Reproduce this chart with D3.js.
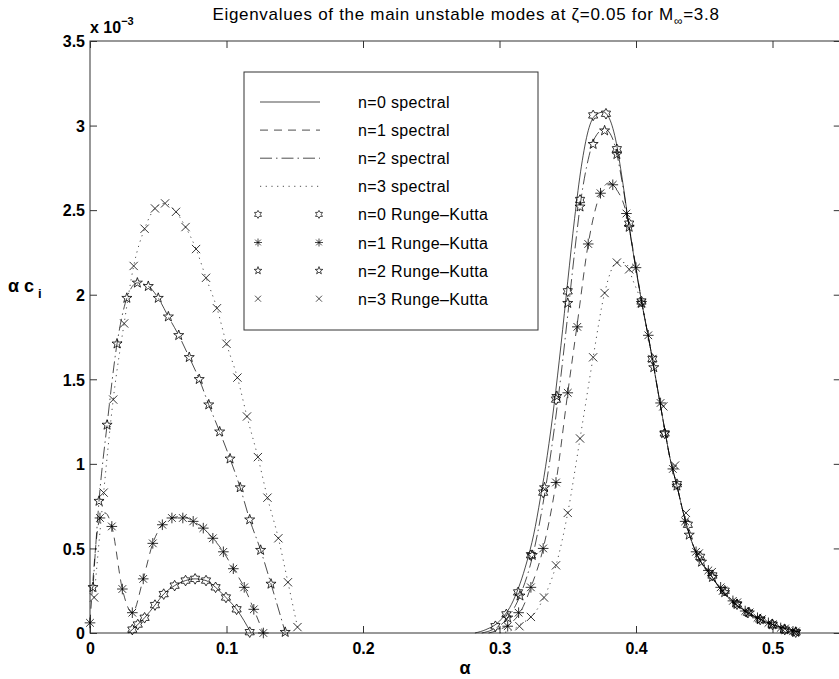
<!DOCTYPE html>
<html><head><meta charset="utf-8">
<script src="https://cdn.jsdelivr.net/npm/d3@7"></script>
<style>
body{margin:0;background:#fff}
text{font-family:"Liberation Sans",Arial,Helvetica,sans-serif;fill:#000}
</style>
</head><body>
<svg id="chart" width="839" height="679"></svg>
<script>
// ---------- data (alpha, alpha*c_i in units of 1e-3) ----------
const xTicks = [0, 0.1, 0.2, 0.3, 0.4, 0.5];
const xTickLabels = ["0", "0.1", "0.2", "0.3", "0.4", "0.5"];
const yTicks = [0, 0.5, 1, 1.5, 2, 2.5, 3, 3.5];
const yTickLabels = ["0", "0.5", "1", "1.5", "2", "2.5", "3", "3.5"];
const legendLabels = ["n=0 spectral", "n=1 spectral", "n=2 spectral", "n=3 spectral",
  "n=0 Runge\u2013Kutta", "n=1 Runge\u2013Kutta", "n=2 Runge\u2013Kutta", "n=3 Runge\u2013Kutta"];

// low-alpha family, spectral curves
const spec0Low = [[0.028,0],[0.031,0.02],[0.035,0.05],[0.040,0.09],[0.0476,0.165],[0.054,0.23],[0.062,0.28],[0.070,0.31],[0.077,0.32],[0.085,0.31],[0.092,0.27],[0.0996,0.21],[0.1074,0.14],[0.118,0]];
const spec1Low = [[0,0.06],[0.0073,0.68],[0.011,0.71],[0.016,0.63],[0.0237,0.26],[0.031,0.12],[0.039,0.32],[0.046,0.53],[0.053,0.64],[0.060,0.68],[0.068,0.69],[0.0756,0.66],[0.083,0.62],[0.090,0.56],[0.0977,0.48],[0.105,0.38],[0.113,0.27],[0.120,0.14],[0.127,0]];
const spec2Low = [[0.0022,0.27],[0.0066,0.78],[0.0125,1.23],[0.0198,1.71],[0.027,1.98],[0.0347,2.07],[0.0427,2.05],[0.050,1.98],[0.0574,1.87],[0.065,1.76],[0.0727,1.63],[0.080,1.50],[0.087,1.35],[0.095,1.19],[0.1026,1.03],[0.110,0.86],[0.117,0.67],[0.125,0.49],[0.1326,0.29],[0.143,0.005]];
const spec3Low = [[0.003,0.21],[0.010,0.83],[0.017,1.38],[0.025,1.83],[0.032,2.17],[0.040,2.39],[0.0476,2.51],[0.055,2.54],[0.063,2.49],[0.070,2.40],[0.0777,2.27],[0.085,2.10],[0.093,1.92],[0.100,1.71],[0.108,1.51],[0.115,1.28],[0.123,1.04],[0.130,0.80],[0.138,0.56],[0.145,0.30],[0.152,0.035]];

// high-alpha family, spectral curves (rising part) and shared decaying tail
const tailHigh = [[0.405,1.92],[0.41,1.71],[0.415,1.48],[0.42,1.25],[0.425,1.03],[0.43,0.87],[0.435,0.70],[0.44,0.56],[0.445,0.46],[0.45,0.39],[0.455,0.34],[0.46,0.28],[0.465,0.23],[0.47,0.19],[0.48,0.13],[0.49,0.085],[0.50,0.05],[0.51,0.025],[0.52,0.005]];
const spec0High = [[0.282,0],[0.29,0.02],[0.30,0.07],[0.31,0.19],[0.32,0.42],[0.325,0.58],[0.33,0.80],[0.335,1.05],[0.34,1.35],[0.345,1.70],[0.35,2.08],[0.355,2.45],[0.36,2.76],[0.365,2.97],[0.37,3.06],[0.376,3.08],[0.38,3.05],[0.385,2.92],[0.39,2.68],[0.395,2.40],[0.40,2.15]];
const spec1High = [[0.292,0],[0.30,0.02],[0.31,0.07],[0.315,0.12],[0.323,0.27],[0.332,0.50],[0.3414,0.89],[0.350,1.42],[0.357,1.83],[0.365,2.30],[0.374,2.60],[0.38,2.66],[0.385,2.63],[0.393,2.48],[0.40,2.16]];
const spec2High = [[0.287,0],[0.295,0.02],[0.305,0.08],[0.315,0.22],[0.325,0.48],[0.335,0.92],[0.345,1.52],[0.35,1.88],[0.355,2.25],[0.36,2.58],[0.365,2.80],[0.37,2.93],[0.377,2.98],[0.383,2.92],[0.39,2.66],[0.395,2.40],[0.40,2.15]];
const spec3High = [[0.30,0],[0.31,0.02],[0.315,0.05],[0.323,0.095],[0.3326,0.21],[0.3414,0.40],[0.350,0.71],[0.359,1.15],[0.3686,1.63],[0.377,2.01],[0.386,2.19],[0.392,2.19],[0.398,2.08]];

// Runge-Kutta points
const rk0 = [[0.031,0.02],[0.035,0.05],[0.040,0.09],[0.0476,0.165],[0.054,0.23],[0.062,0.28],[0.070,0.31],[0.077,0.32],[0.085,0.31],[0.092,0.27],[0.0996,0.21],[0.1074,0.14],[0.117,0.005],
  [0.297,0.04],[0.305,0.11],[0.3136,0.24],[0.323,0.46],[0.332,0.83],[0.3414,1.38],[0.350,2.02],[0.359,2.56],[0.3686,3.06],[0.378,3.07],[0.386,2.86],[0.395,2.42],[0.404,1.96],[0.412,1.62],[0.421,1.18],[0.43,0.88],[0.438,0.64],[0.447,0.45],[0.456,0.34],[0.465,0.25],[0.474,0.17],[0.482,0.12],[0.491,0.08],[0.50,0.05],[0.509,0.02],[0.517,0.005]];
const rk1 = [[0,0.06],[0.0073,0.68],[0.016,0.63],[0.0237,0.26],[0.031,0.12],[0.039,0.32],[0.046,0.53],[0.053,0.64],[0.060,0.68],[0.068,0.68],[0.0756,0.66],[0.083,0.62],[0.090,0.56],[0.0977,0.48],[0.105,0.38],[0.113,0.27],[0.120,0.14],[0.127,0],
  [0.306,0.04],[0.314,0.12],[0.323,0.27],[0.332,0.50],[0.3414,0.89],[0.350,1.42],[0.357,1.81],[0.365,2.30],[0.374,2.60],[0.383,2.65],[0.393,2.48],[0.40,2.16],[0.409,1.76],[0.418,1.36],[0.427,0.97],[0.436,0.66],[0.444,0.48],[0.453,0.37],[0.462,0.27],[0.471,0.19],[0.48,0.13],[0.489,0.09],[0.497,0.06],[0.506,0.03],[0.515,0.01]];
const rk2 = [[0.0022,0.27],[0.0066,0.78],[0.0125,1.23],[0.0198,1.71],[0.027,1.98],[0.0347,2.07],[0.0427,2.05],[0.050,1.98],[0.0574,1.87],[0.065,1.76],[0.0727,1.63],[0.080,1.50],[0.087,1.35],[0.095,1.19],[0.1026,1.03],[0.110,0.86],[0.117,0.67],[0.125,0.49],[0.1326,0.29],[0.143,0.005],
  [0.306,0.09],[0.315,0.22],[0.324,0.46],[0.333,0.86],[0.342,1.40],[0.350,1.95],[0.359,2.52],[0.3686,2.89],[0.377,2.97],[0.386,2.83],[0.395,2.40],[0.404,1.95],[0.413,1.57],[0.421,1.18],[0.43,0.87],[0.439,0.58],[0.448,0.42],[0.456,0.33],[0.465,0.24],[0.474,0.17],[0.483,0.12],[0.491,0.08],[0.50,0.05],[0.509,0.02],[0.517,0.005]];
const rk3 = [[0.003,0.21],[0.010,0.83],[0.017,1.38],[0.025,1.83],[0.032,2.17],[0.040,2.39],[0.0476,2.51],[0.055,2.54],[0.063,2.49],[0.070,2.40],[0.0777,2.27],[0.085,2.10],[0.093,1.92],[0.100,1.71],[0.108,1.51],[0.115,1.28],[0.123,1.04],[0.130,0.80],[0.138,0.56],[0.145,0.30],[0.152,0.035],
  [0.3146,0.04],[0.323,0.095],[0.3326,0.21],[0.3414,0.40],[0.350,0.71],[0.359,1.15],[0.3686,1.63],[0.377,2.01],[0.386,2.19],[0.395,2.15],[0.404,1.95],[0.412,1.62],[0.42,1.34],[0.4286,0.99],[0.4366,0.71],[0.446,0.47],[0.4555,0.36],[0.4637,0.25],[0.474,0.18],[0.483,0.12],[0.492,0.08],[0.50,0.05],[0.509,0.025],[0.517,0.008]];

// ---------- drawing ----------
const svg = d3.select("#chart");
const L = 90, T = 41, B = 633;
const x = d3.scaleLinear().domain([0, 0.55]).range([L, L + 0.55 * 1365]);
const y = d3.scaleLinear().domain([0, 3.5]).range([B, T]);
const R = x.range()[1];

const dashes = [null, "8,6", "12,4,1.5,4", "1.2,4.5"];
const lineGen = d3.line().x(d => x(d[0])).y(d => y(d[1])).curve(d3.curveMonotoneX);

const specSets = [
  [spec0Low, spec0High.concat(tailHigh)],
  [spec1Low, spec1High.concat(tailHigh)],
  [spec2Low, spec2High.concat(tailHigh)],
  [spec3Low, spec3High.concat(tailHigh)]
];

// axes box
svg.append("rect").attr("x", L).attr("y", T).attr("width", R - L).attr("height", B - T)
  .attr("fill", "none").attr("stroke", "#333").attr("stroke-width", 1);

// ticks inward with d3 axes
const tickLen = 7;
const axB = svg.append("g").attr("transform", `translate(0,${B})`)
  .call(d3.axisBottom(x).tickValues(xTicks).tickSize(-tickLen).tickFormat((d, i) => xTickLabels[i]).tickPadding(12));
const axT = svg.append("g").attr("transform", `translate(0,${T})`)
  .call(d3.axisTop(x).tickValues(xTicks).tickSize(-tickLen).tickFormat(""));
const axL = svg.append("g").attr("transform", `translate(${L},0)`)
  .call(d3.axisLeft(y).tickValues(yTicks).tickSize(-tickLen).tickFormat((d, i) => yTickLabels[i]).tickPadding(5));
const axR = svg.append("g").attr("transform", `translate(${R},0)`)
  .call(d3.axisRight(y).tickValues(yTicks).tickSize(-tickLen).tickFormat(""));
[axB, axT, axL, axR].forEach(a => {
  a.select(".domain").remove();
  a.selectAll(".tick line").attr("stroke", "#333").attr("stroke-width", 1);
  a.selectAll("text").style("font-family", '"Liberation Sans",Arial,sans-serif')
    .style("font-size", "16px").style("font-weight", "bold").attr("fill", "#000");
});
axB.selectAll(".tick text").attr("dy", "0.71em").attr("y", 10);
axL.selectAll(".tick text").attr("dy", "0.36em");

// spectral lines
specSets.forEach((pair, i) => {
  pair.forEach(data => {
    svg.append("path").attr("d", lineGen(data)).attr("fill", "none")
      .attr("stroke", "#000").attr("stroke-width", 0.7)
      .attr("stroke-dasharray", dashes[i]);
  });
});

// marker shapes
function starPath(n, rOut, rIn, rot) {
  const pts = [];
  for (let k = 0; k < 2 * n; k++) {
    const r = k % 2 === 0 ? rOut : rIn;
    const a = rot + k * Math.PI / n;
    pts.push([r * Math.sin(a), -r * Math.cos(a)]);
  }
  return "M" + pts.map(p => p[0].toFixed(2) + "," + p[1].toFixed(2)).join("L") + "Z";
}
function markerPath(type, s) {
  if (type === 0) return starPath(6, s, s * 0.577, 0);
  if (type === 2) return starPath(5, s, s * 0.40, 0);
  if (type === 1) {
    const d = s * 0.72;
    return `M0,${-s}L0,${s}M${-s},0L${s},0M${-d},${-d}L${d},${d}M${-d},${d}L${d},${-d}`;
  }
  const d = s * 0.75;
  return `M${-d},${-d}L${d},${d}M${-d},${d}L${d},${-d}`;
}
const rkSets = [rk0, rk1, rk2, rk3];
rkSets.forEach((data, i) => {
  svg.append("g").selectAll("path").data(data).join("path")
    .attr("transform", d => `translate(${x(d[0])},${y(d[1])})`)
    .attr("d", markerPath(i, i === 3 ? 5.5 : 5.3))
    .attr("fill", "none").attr("stroke", "#000").attr("stroke-width", 0.8);
});

// legend
const lg = svg.append("g");
lg.append("rect").attr("x", 244).attr("y", 72).attr("width", 294).attr("height", 258)
  .attr("fill", "#fff").attr("stroke", "#333").attr("stroke-width", 1);
const rowY = d3.range(8).map(k => 102 + k * 28.1);
legendLabels.forEach((lab, k) => {
  const yy = rowY[k];
  if (k < 4) {
    lg.append("line").attr("x1", 260).attr("x2", 320).attr("y1", yy).attr("y2", yy)
      .attr("stroke", "#000").attr("stroke-width", 0.7).attr("stroke-dasharray", dashes[k]);
  } else {
    [258, 319].forEach(px => {
      lg.append("path").attr("transform", `translate(${px},${yy})`)
        .attr("d", markerPath(k - 4, 4)).attr("fill", "none").attr("stroke", "#000").attr("stroke-width", 0.7);
    });
  }
  lg.append("text").attr("x", 358).attr("y", yy + 6).style("font-size", "16px")
    .style("letter-spacing", "0.35px").text(lab);
});

// title
const title = svg.append("text").attr("x", 466).attr("y", 20).attr("text-anchor", "middle")
  .style("font-size", "17px").style("letter-spacing", "0.7px");
title.append("tspan").text("Eigenvalues of the main unstable modes at \u03B6=0.05 for M");
title.append("tspan").attr("dy", 5).style("font-size", "12px").text("\u221E");
title.append("tspan").attr("dy", -5).text("=3.8");

// exponent label
const ex = svg.append("text").attr("x", 90).attr("y", 33).style("font-size", "16px").style("font-weight", "bold");
ex.append("tspan").text("x 10");
ex.append("tspan").attr("dy", -8).style("font-size", "11px").text("\u22123");

// axis labels
svg.append("text").attr("x", 465).attr("y", 674).attr("text-anchor", "middle")
  .style("font-size", "18px").style("font-weight", "bold").text("\u03B1");
const yl = svg.append("text").attr("x", 8).attr("y", 292).style("font-size", "18px").style("font-weight", "bold");
yl.append("tspan").text("\u03B1 c");
yl.append("tspan").attr("dx", 4).attr("dy", 6).style("font-size", "13px").text("i");
</script>
</body></html>
